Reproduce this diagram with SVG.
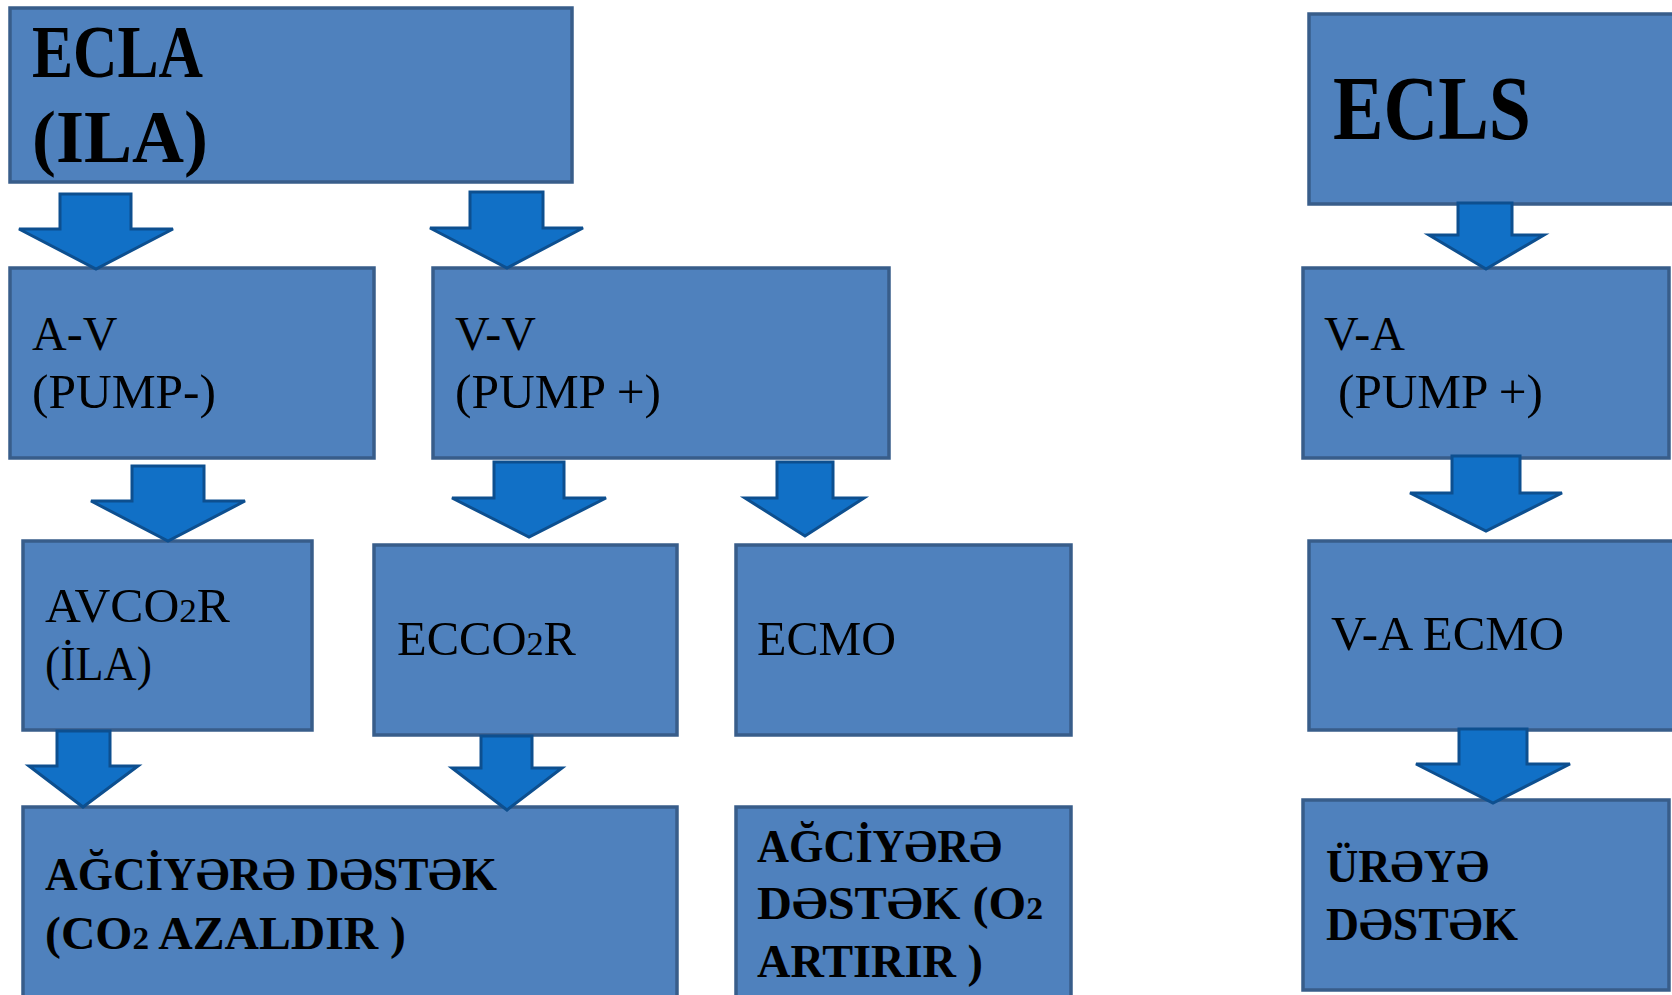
<svg xmlns="http://www.w3.org/2000/svg" width="1672" height="995" viewBox="0 0 1672 995">
<style>
.box{fill:#4F81BD;stroke:#385D8A;stroke-width:3.5}
.arr{fill:#1170C6;stroke:#0D4F8F;stroke-width:3;stroke-linejoin:miter}
.r{font-family:"Liberation Serif","DejaVu Serif",serif;font-size:48px;fill:#000}
.b{font-family:"Liberation Serif","DejaVu Serif",serif;font-weight:bold;fill:#000}
.sub{font-size:34px}
</style>
<rect width="1672" height="995" fill="#FFFFFF"/>
<g id="ecla"><rect class="box" x="10" y="8" width="562" height="174"/>
<text class="b" font-size="74" x="32" y="77" textLength="171" lengthAdjust="spacingAndGlyphs">ECLA</text>
<text class="b" font-size="74" x="32" y="162" textLength="176" lengthAdjust="spacingAndGlyphs">(ILA)</text></g>
<g id="ecls"><rect class="box" x="1309" y="14" width="380" height="190"/>
<text class="b" font-size="90" x="1333" y="139" textLength="198" lengthAdjust="spacingAndGlyphs">ECLS</text></g>
<g id="av"><rect class="box" x="10" y="268" width="364" height="190"/>
<text class="r" x="32" y="350">A-V</text>
<text class="r" x="32" y="408" textLength="184" lengthAdjust="spacingAndGlyphs">(PUMP-)</text></g>
<g id="vv"><rect class="box" x="433" y="268" width="456" height="190"/>
<text class="r" x="455" y="350">V-V</text>
<text class="r" x="455" y="408" textLength="206" lengthAdjust="spacingAndGlyphs">(PUMP +)</text></g>
<g id="va"><rect class="box" x="1303" y="268" width="366" height="190"/>
<text class="r" x="1324" y="350">V-A</text>
<text class="r" x="1338" y="408" textLength="205" lengthAdjust="spacingAndGlyphs">(PUMP +)</text></g>
<g id="avco2r"><rect class="box" x="23" y="541" width="289" height="189"/>
<text class="r" x="45" y="622" textLength="185" lengthAdjust="spacingAndGlyphs">AVCO<tspan class="sub">2</tspan>R</text>
<text class="r" x="45" y="680" textLength="107" lengthAdjust="spacingAndGlyphs">(İLA)</text></g>
<g id="ecco2r"><rect class="box" x="374" y="545" width="303" height="190"/>
<text class="r" x="397" y="655" textLength="179" lengthAdjust="spacingAndGlyphs">ECCO<tspan class="sub">2</tspan>R</text></g>
<g id="ecmo"><rect class="box" x="736" y="545" width="335" height="190"/>
<text class="r" x="757" y="655" textLength="139" lengthAdjust="spacingAndGlyphs">ECMO</text></g>
<g id="vaecmo"><rect class="box" x="1309" y="541" width="380" height="189"/>
<text class="r" x="1331" y="650" textLength="233" lengthAdjust="spacingAndGlyphs">V-A ECMO</text></g>
<g id="lung-co2"><rect class="box" x="23" y="807" width="654" height="200"/>
<text class="b" font-size="46" x="45" y="890" textLength="452" lengthAdjust="spacingAndGlyphs">AĞCİYƏRƏ DƏSTƏK</text>
<text class="b" font-size="46" x="45" y="949" textLength="361" lengthAdjust="spacingAndGlyphs">(CO<tspan font-size="32">2</tspan> AZALDIR )</text></g>
<g id="lung-o2"><rect class="box" x="736" y="807" width="335" height="200"/>
<text class="b" font-size="46" x="757" y="862" textLength="245" lengthAdjust="spacingAndGlyphs">AĞCİYƏRƏ</text>
<text class="b" font-size="46" x="757" y="919" textLength="286" lengthAdjust="spacingAndGlyphs">DƏSTƏK (O<tspan font-size="32">2</tspan></text>
<text class="b" font-size="46" x="757" y="977" textLength="226" lengthAdjust="spacingAndGlyphs">ARTIRIR )</text></g>
<g id="heart"><rect class="box" x="1303" y="800" width="366" height="190"/>
<text class="b" font-size="46" x="1326" y="882" textLength="163" lengthAdjust="spacingAndGlyphs">ÜRƏYƏ</text>
<text class="b" font-size="46" x="1326" y="940" textLength="192" lengthAdjust="spacingAndGlyphs">DƏSTƏK</text></g>
<g id="connectors">
<polygon class="arr" points="60,194 131,194 131,229 173,229 96,269 19,229 60,229"/>
<polygon class="arr" points="470,192 543,192 543,228 583,228 507,268 430,228 470,228"/>
<polygon class="arr" points="1458,203 1512,203 1512,235 1544,235 1486,269 1429,235 1458,235"/>
<polygon class="arr" points="132,466 204,466 204,501 245,501 168,541 91,501 132,501"/>
<polygon class="arr" points="494,462 564,462 564,498 606,498 529,537 452,498 494,498"/>
<polygon class="arr" points="777,462 833,462 833,498 864,498 805,536 745,498 777,498"/>
<polygon class="arr" points="1452,456 1520,456 1520,493 1562,493 1486,531 1410,493 1452,493"/>
<polygon class="arr" points="57,731 110,731 110,766 138,766 83,807 29,766 57,766"/>
<polygon class="arr" points="481,736 532,736 532,768 562,768 507,810 452,768 481,768"/>
<polygon class="arr" points="1459,729 1527,729 1527,764 1570,764 1493,803 1416,764 1459,764"/>
</g>
</svg>
